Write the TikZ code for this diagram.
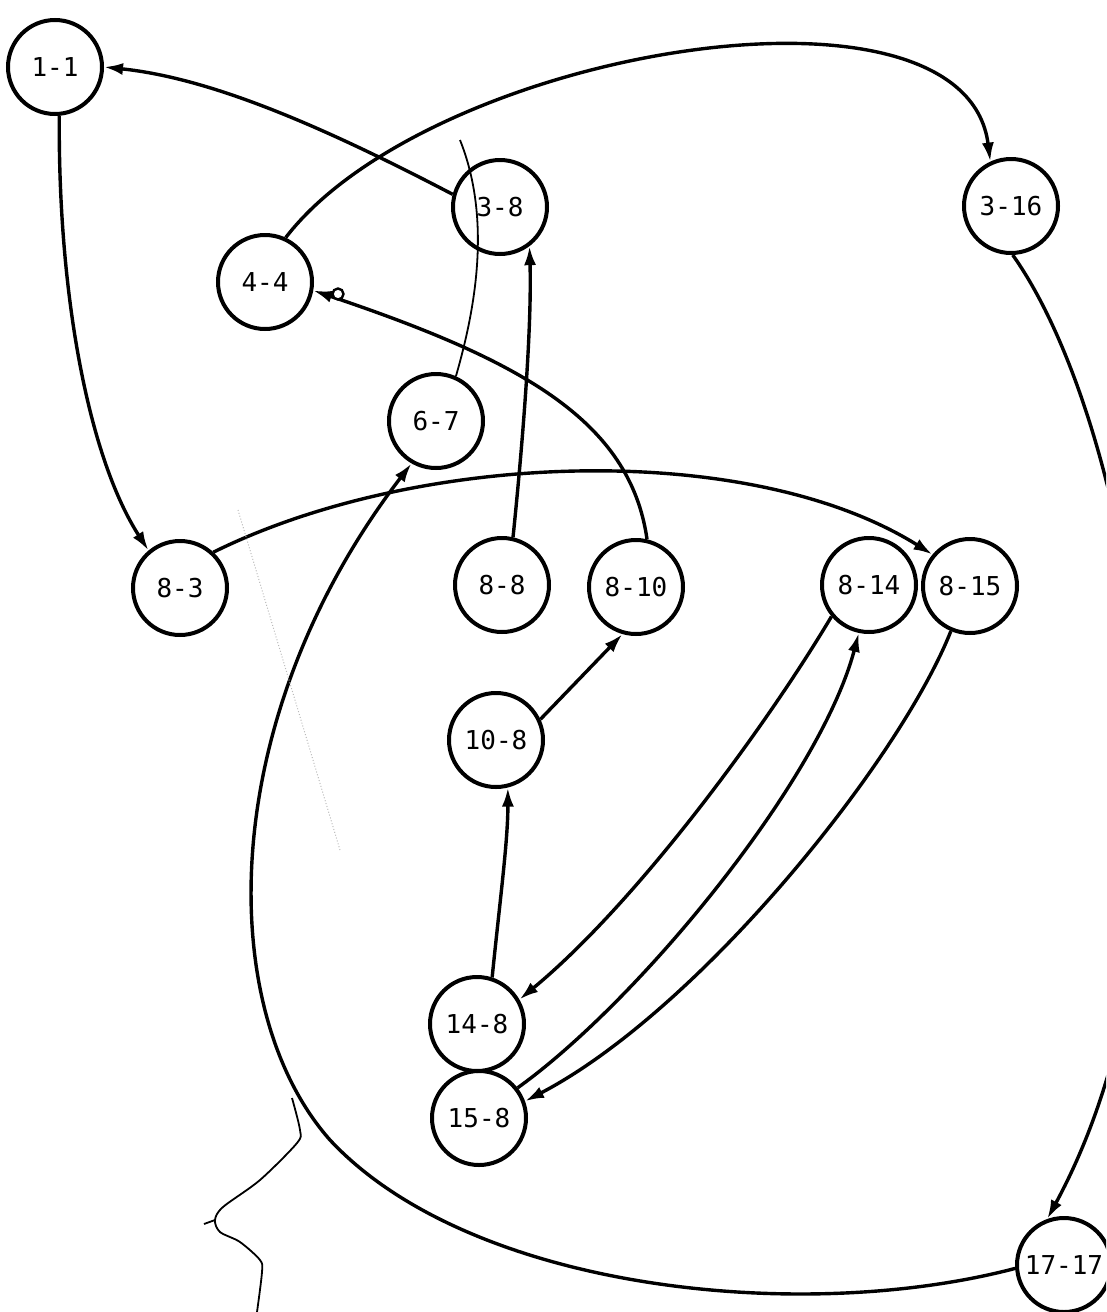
\documentclass[tikz,border=0pt]{standalone}
\usepackage{fontspec}
\newfontfamily\lblfont{DejaVu Sans Mono}
\usetikzlibrary{arrows.meta}
\begin{document}
\begin{tikzpicture}[x=1pt,y=-1pt,
  st/.style={circle,draw,line width=4pt,minimum size=94pt,inner sep=0pt,
             font=\lblfont\fontsize{26}{26}\selectfont},
  ed/.style={line width=3.4pt,-{Latex[length=19pt,width=12pt]}},
  hair/.style={line width=1.8pt}]
\useasboundingbox (0,0) rectangle (1106,1312);
\clip (0,0) rectangle (1106,1312);

% states
\node[st] (n11)   at (55,67)    {1-1};
\node[st] (n38)   at (500,207)  {3-8};
\node[st] (n316)  at (1011,206) {3-16};
\node[st] (n44)   at (265,282)  {4-4};
\node[st] (n67)   at (436,421)  {6-7};
\node[st] (n83)   at (180,588)  {8-3};
\node[st] (n88)   at (502,585)  {8-8};
\node[st] (n810)  at (636,587)  {8-10};
\node[st] (n814)  at (869,585)  {8-14};
\node[st] (n815)  at (970,586)  {8-15};
\node[st] (n108)  at (496,740)  {10-8};
\node[st] (n148)  at (477,1024) {14-8};
\node[st] (n158)  at (479,1118) {15-8};
\node[st] (n1717) at (1064,1265){17-17};

% transitions
\draw[ed] (n38.165) .. controls (320,125) and (210,78) .. (n11.east);
\draw[ed] (n11.275) .. controls (58,300) and (90,460) .. (n83.130);
\draw[ed] (n44.65) .. controls (430,50) and (965,-40) .. (n316.115);
\draw[ed] (n316.272) .. controls (1130,420) and (1220,900) .. (n1717.110);
\draw[ed] (n1717.184) .. controls (800,1325) and (470,1290) .. (330,1140)
          .. controls (215,1010) and (215,720) .. (n67.240);
\draw[ed] (n810.77) .. controls (630,420) and (520,360) .. (n44.350);
\node[circle,draw,fill=white,line width=2.4pt,minimum size=11pt,inner sep=0pt] (oc) at (338,294) {};
\draw[ed] (n88.77) .. controls (522,450) and (532,330) .. (n38.-53);
\draw[ed] (n83.47) .. controls (420,450) and (750,440) .. (n815.140);
\draw[ed] (n108.25) -- (n810.254);
\draw[ed] (n148.72) .. controls (500,900) and (508,840) .. (n108.284);
\draw[ed] (n814.220) .. controls (770,720) and (640,900) .. (n148.30);
\draw[ed] (n158.38) .. controls (640,1000) and (820,780) .. (n814.258);
\draw[ed] (n815.247) .. controls (900,760) and (700,1010) .. (n158.20);

% thin pen line through 3-8
\coordinate (t1) at (460,140);
\draw[hair] (n67.66) .. controls (475,310) and (492,220) .. (t1);

% stray marks
\draw[gray!55,dotted,line width=1pt] (238,510) -- (340,850);
\draw[hair] plot[smooth] coordinates {(292,1098) (300,1130) (297,1143) (260,1180) (223,1207) (215,1220) (220,1232) (240,1242) (260,1260) (262,1272) (257,1312)};
\draw[hair] (215,1220) -- (204,1224);
\end{tikzpicture}
\end{document}
